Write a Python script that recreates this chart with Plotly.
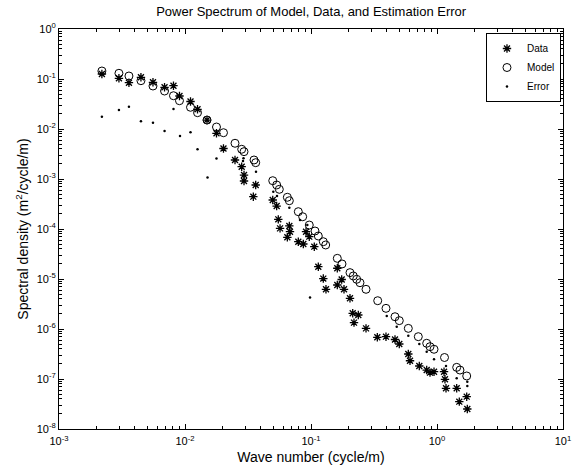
import plotly.graph_objects as go

# ---- Data (wave number in cycle/m, spectral density in m^2/cycle/m) ----
data_k = [2.19e-3, 2.99e-3, 3.59e-3, 4.47e-3, 5.57e-3, 6.88e-3, 8.10e-3, 9.04e-3,
          1.106e-2, 1.257e-2, 1.495e-2, 1.778e-2, 2.02e-2, 2.494e-2, 2.818e-2, 2.94e-2,
          2.94e-2, 3.64e-2, 3.485e-2, 4.97e-2, 5.34e-2, 5.50e-2, 5.68e-2, 6.73e-2,
          6.81e-2, 6.49e-2, 9.13e-2, 9.69e-2, 7.93e-2, 8.69e-2, 0.1062, 0.1143,
          0.1252, 0.1315, 0.1617, 0.1752, 0.1617, 0.1828, 0.2039, 0.2143,
          0.2374, 0.2194, 0.2733, 0.336, 0.3937, 0.4642, 0.502, 0.592,
          0.6106, 0.7236, 0.8285, 0.880, 0.947, 1.137, 1.157, 1.179,
          1.433, 1.503, 1.721, 1.740]
data_psd = [0.1259, 0.1033, 0.0843, 0.1081, 0.0859, 0.0682, 0.0735, 0.0457,
            0.0355, 0.0248, 0.0151, 0.0082, 0.00407, 0.0024, 0.00176, 0.0012,
            9.12e-4, 7.59e-4, 4.43e-4, 3.80e-4, 2.88e-4, 1.56e-4, 1.03e-4, 1.15e-4,
            8.83e-5, 6.82e-5, 8.83e-5, 7.02e-5, 5.57e-5, 5.01e-5, 4.43e-5, 1.76e-5,
            1.02e-5, 6.22e-6, 1.64e-5, 9.77e-6, 7.59e-6, 6.22e-6, 4.11e-6, 2.06e-6,
            1.905e-6, 1.34e-6, 1.03e-6, 6.82e-7, 7.02e-7, 6.17e-7, 5.01e-7, 3.16e-7,
            2.32e-7, 1.82e-7, 1.51e-7, 1.34e-7, 1.40e-7, 1.40e-7, 9.86e-8, 6.52e-8,
            6.52e-8, 3.52e-8, 4.43e-8, 2.51e-8]

model_k = [2.19e-3, 2.99e-3, 3.59e-3, 4.47e-3, 5.57e-3, 6.88e-3, 8.10e-3, 9.04e-3,
           1.106e-2, 1.257e-2, 1.495e-2, 1.778e-2, 2.02e-2, 2.494e-2, 2.818e-2, 2.94e-2,
           3.529e-2, 3.64e-2, 4.97e-2, 5.34e-2, 5.603e-2, 6.49e-2, 6.73e-2, 7.93e-2,
           8.59e-2, 9.69e-2, 0.1076, 0.1143, 0.1252, 0.1308, 0.1617, 0.1762,
           0.2039, 0.2166, 0.2305, 0.2448, 0.2733, 0.3384, 0.3937, 0.4642,
           0.502, 0.592, 0.7105, 0.8285, 0.880, 0.947, 1.147, 1.433,
           1.522, 1.721]
model_psd = [0.1445, 0.130, 0.1148, 0.0925, 0.0724, 0.0575, 0.0463, 0.0368,
             0.0272, 0.0212, 0.0151, 0.01096, 0.00843, 0.00518, 0.00393, 0.00352,
             0.0024, 0.00212, 9.25e-4, 7.59e-4, 6.22e-4, 4.31e-4, 3.68e-4, 2.22e-4,
             1.76e-4, 1.20e-4, 9.12e-5, 7.24e-5, 5.57e-5, 4.79e-5, 2.59e-5, 2.0e-5,
             1.34e-5, 1.15e-5, 9.86e-6, 8.43e-6, 6.22e-6, 3.68e-6, 2.59e-6, 1.76e-6,
             1.47e-6, 1.03e-6, 7.02e-7, 5.18e-7, 4.43e-7, 3.93e-7, 2.69e-7, 1.71e-7,
             1.51e-7, 1.15e-7]

error_k = [2.19e-3, 2.99e-3, 3.59e-3, 4.47e-3, 5.57e-3, 6.88e-3, 8.10e-3, 9.13e-3,
           1.106e-2, 1.257e-2, 1.509e-2, 1.778e-2, 2.913e-2, 2.886e-2, 3.66e-2, 5.02e-2,
           5.37e-2, 6.73e-2, 8.18e-2, 9.35e-2, 9.82e-2, 0.399, 0.479, 0.592,
           0.7236, 0.8285, 0.947, 1.179, 1.433, 1.740, 1.740]
error_psd = [0.0176, 0.024, 0.0279, 0.01426, 0.01337, 0.00912, 0.0251, 0.00724,
             0.00859, 0.00393, 0.00107, 0.00257, 0.00259, 0.00229, 0.0014, 5.57e-4,
             4.57e-4, 2.67e-4, 1.51e-4, 1.20e-4, 4.27e-6, 1.82e-6, 1.11e-6, 7.35e-7,
             5.01e-7, 3.52e-7, 2.48e-7, 1.82e-7, 1.03e-7, 8.83e-8, 7.24e-8]

x_tick_exp = [-3, -2, -1, 0, 1]
y_tick_exp = [0, -1, -2, -3, -4, -5, -6, -7, -8]

title_text = "Power Spectrum of Model, Data, and Estimation Error"
x_title = "Wave number (cycle/m)"
y_title = "Spectral density (m<sup>2</sup>/cycle/m)"

FONT = "Liberation Sans, Arial, Helvetica, sans-serif"

fig = go.Figure()
fig.add_trace(go.Scatter(
    x=data_k, y=data_psd, mode="markers", name="Data",
    marker=dict(symbol="asterisk", size=7, color="black",
                line=dict(color="black", width=1.3))))
fig.add_trace(go.Scatter(
    x=model_k, y=model_psd, mode="markers", name="Model",
    marker=dict(symbol="circle-open", size=8, color="black",
                line=dict(color="black", width=1))))
fig.add_trace(go.Scatter(
    x=error_k, y=error_psd, mode="markers", name="Error",
    marker=dict(symbol="circle", size=2.5, color="black")))

axis_common = dict(
    type="log", showgrid=False, zeroline=False, showline=True, mirror="ticks",
    linecolor="black", linewidth=1, ticks="inside", ticklen=5, tickcolor="black",
    tickfont=dict(family=FONT, size=11, color="black"), automargin=False,
    minor=dict(ticks="inside", ticklen=3, tickcolor="black", dtick="D1", showgrid=False),
)

fig.update_xaxes(
    **axis_common,
    range=[-3, 1],
    tickvals=[10 ** e for e in x_tick_exp],
    ticktext=[f"10<sup>{e}</sup>" for e in x_tick_exp],
    ticklabelstandoff=2,
    title=dict(text=x_title, font=dict(family=FONT, size=14, color="black"), standoff=5),
)
fig.update_yaxes(
    **axis_common,
    range=[-8, 0],
    tickvals=[10 ** e for e in y_tick_exp],
    ticktext=[f"10<sup>{e}</sup>" for e in y_tick_exp],
    title=dict(text=y_title, font=dict(family=FONT, size=14, color="black"), standoff=4),
)

fig.update_layout(
    width=572, height=473,
    margin=dict(l=59, r=9, t=29, b=44),
    paper_bgcolor="white", plot_bgcolor="white",
    title=dict(text=title_text, x=0.544, xanchor="center", y=0.985, yanchor="top",
               font=dict(family=FONT, size=13, color="black"), automargin=False),
    legend=dict(x=0.996, y=0.99, xanchor="right", yanchor="top",
                bordercolor="black", borderwidth=1, bgcolor="white",
                font=dict(family=FONT, size=10, color="black"),
                tracegroupgap=0, itemwidth=30),
    showlegend=True,
)

fig.write_html("out.html", config={"displayModeBar": False},
               post_script="document.body.style.margin='0';")
